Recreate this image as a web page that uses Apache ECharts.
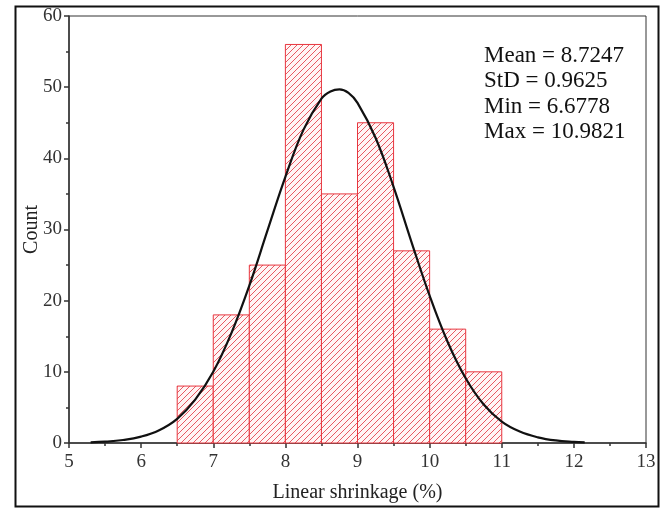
<!DOCTYPE html>
<html>
<head>
<meta charset="utf-8">
<script src="https://cdn.jsdelivr.net/npm/echarts@6/dist/echarts.min.js"></script>
<style>
  html, body { margin: 0; padding: 0; background: #fff; }
  #chart { width: 666px; height: 508px; }
</style>
</head>
<body>
<div id="chart"></div>
<script>
// Histogram bins (linear shrinkage, %) and counts
const binStarts = [6.5, 7.0, 7.5, 8.0, 8.5, 9.0, 9.5, 10.0, 10.5];
const binWidth = 0.5;
const counts = [8, 18, 25, 56, 35, 45, 27, 16, 10];

// Fitted normal curve, sampled along the x axis
const curveX = [5.3, 5.5, 5.75, 6.0, 6.25, 6.5, 6.75, 7.0, 7.25, 7.5, 7.75, 8.0, 8.25, 8.5, 8.625, 8.75,
                8.875, 9.0, 9.25, 9.5, 9.75, 10.0, 10.25, 10.5, 10.75, 11.0, 11.25, 11.5, 11.75, 12.0, 12.15];
const curveY = [0.1, 0.18, 0.42, 0.9, 1.8, 3.4, 6.1, 10.0, 15.4, 22.1, 29.8, 37.4, 44.0, 48.4, 49.4, 49.7,
                49.2, 47.8, 42.9, 36.0, 28.2, 20.7, 14.2, 9.1, 5.4, 3.0, 1.6, 0.8, 0.36, 0.15, 0.08];

// Summary statistics shown in the upper right
const statLines = ['Mean = 8.7247', 'StD = 0.9625', 'Min = 6.6778', 'Max = 10.9821'];

const xTicks = [5, 6, 7, 8, 9, 10, 11, 12, 13];
const yTicks = [0, 10, 20, 30, 40, 50, 60];

const serif = '"Liberation Serif", "DejaVu Serif", serif';

// diagonal hatch pattern for the bars
function makeHatch() {
  const s = 6;
  const c = document.createElement('canvas');
  c.width = s; c.height = s;
  const g = c.getContext('2d');
  g.fillStyle = '#fff5f5';
  g.fillRect(0, 0, s, s);
  g.strokeStyle = 'rgba(228, 72, 82, 0.9)';
  g.lineWidth = 1;
  g.beginPath();
  g.moveTo(-1, s + 1); g.lineTo(s + 1, -1);
  g.moveTo(-1, 1); g.lineTo(1, -1);
  g.moveTo(s - 1, s + 1); g.lineTo(s + 1, s - 1);
  g.stroke();
  return c;
}
const hatch = makeHatch();

const barData = binStarts.map((b, i) => [b, b + binWidth, counts[i]]);
const curveData = curveX.map((x, i) => [x, curveY[i]]);

const chart = echarts.init(document.getElementById('chart'), null, { renderer: 'canvas' });

const tickStyle = { color: '#333', width: 1.5 };

chart.setOption({
  animation: false,
  backgroundColor: '#fff',
  grid: {
    left: 69, right: 20, top: 16, bottom: 65,
    show: true, borderColor: '#333', borderWidth: 1, backgroundColor: 'transparent'
  },
  xAxis: {
    type: 'value', min: xTicks[0], max: xTicks[xTicks.length - 1], interval: 1,
    name: 'Linear shrinkage (%)', nameLocation: 'middle', nameGap: 40, nameMoveOverlap: false,
    nameTextStyle: { fontFamily: serif, fontSize: 20, color: '#222' },
    axisLine: { show: true, lineStyle: { color: '#333', width: 1.5 } },
    axisTick: { show: true, length: 5, lineStyle: tickStyle },
    minorTick: { show: true, splitNumber: 2, length: 3, lineStyle: tickStyle },
    axisLabel: { fontFamily: serif, fontSize: 19, color: '#333', margin: 10 },
    splitLine: { show: false }
  },
  yAxis: {
    type: 'value', min: yTicks[0], max: yTicks[yTicks.length - 1], interval: 10,
    name: 'Count', nameLocation: 'middle', nameGap: 27, nameMoveOverlap: false,
    nameTextStyle: { fontFamily: serif, fontSize: 20, color: '#222' },
    axisLine: { show: true, lineStyle: { color: '#333', width: 1.5 } },
    axisTick: { show: true, length: 5, lineStyle: tickStyle },
    minorTick: { show: true, splitNumber: 2, length: 3, lineStyle: tickStyle },
    axisLabel: { fontFamily: serif, fontSize: 19, color: '#333', margin: 7 },
    splitLine: { show: false }
  },
  series: [
    {
      type: 'custom',
      data: barData,
      encode: { x: [0, 1], y: 2 },
      renderItem: function (params, api) {
        const p0 = api.coord([api.value(0), api.value(2)]);
        const p1 = api.coord([api.value(1), 0]);
        return {
          type: 'rect',
          shape: { x: p0[0], y: p0[1], width: p1[0] - p0[0], height: p1[1] - p0[1] },
          style: {
            fill: { image: hatch, repeat: 'repeat' },
            stroke: '#e8363f',
            lineWidth: 1
          }
        };
      },
      z: 2
    },
    {
      type: 'line',
      data: curveData,
      smooth: 0.4,
      showSymbol: false,
      lineStyle: { color: '#111', width: 2.2 },
      z: 3
    }
  ],
  graphic: [
    {
      type: 'rect', left: 13, top: 4, z: 0, silent: true,
      shape: { width: 643, height: 500 },
      style: { fill: 'none', stroke: '#111', lineWidth: 2 }
    },
    ...statLines.map((t, i) => ({
      type: 'text', left: 484, top: 44 + i * 25.5, z: 10,
      style: { text: t, font: '23px ' + serif, fill: '#111' }
    }))
  ]
});
</script>
</body>
</html>
